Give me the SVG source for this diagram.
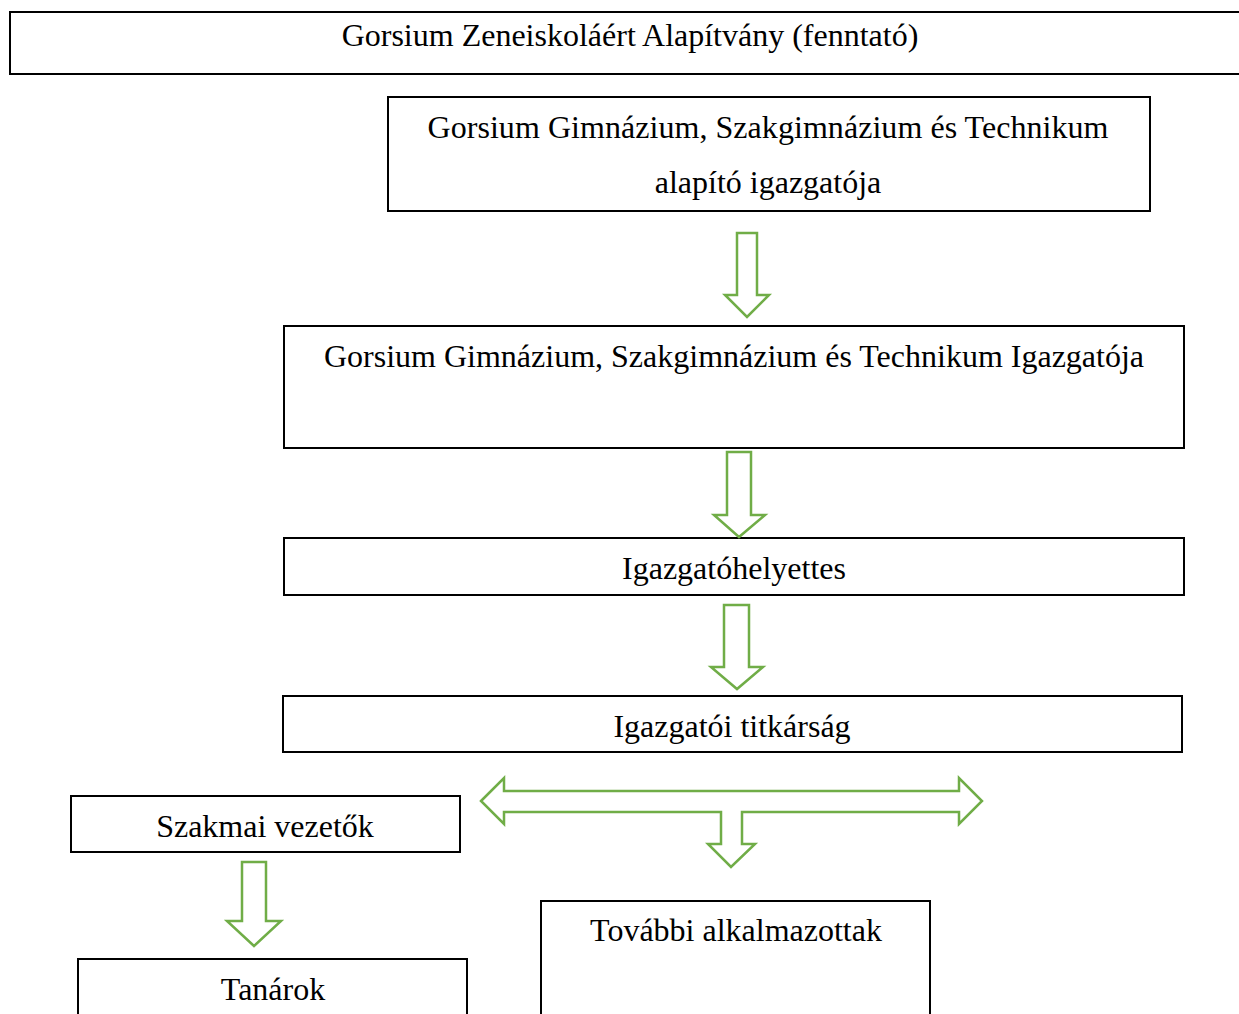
<svg xmlns="http://www.w3.org/2000/svg" width="1239" height="1014" viewBox="0 0 1239 1014">
<style>
.box{fill:#fff;stroke:#000;stroke-width:2}
.t{font-family:"Liberation Serif","Times New Roman",serif;font-size:32px;fill:#000;text-anchor:middle}
.ar{fill:#fff;stroke:#70AD47;stroke-width:2.5;stroke-linejoin:miter}
</style>
<rect width="1239" height="1014" fill="#fff"/>
<g id="n-fenntarto"><rect class="box" x="10" y="12" width="1240" height="62"/><text class="t" x="630" y="46">Gorsium Zeneiskoláért Alapítvány (fenntató)</text></g>
<g id="n-alapito"><rect class="box" x="388" y="97" width="762" height="114"/><text class="t" x="768" y="138" textLength="681" lengthAdjust="spacing">Gorsium Gimnázium, Szakgimnázium és Technikum</text><text class="t" x="768" y="193">alapító igazgatója</text></g>
<g id="n-igazgato"><rect class="box" x="284" y="326" width="900" height="122"/><text class="t" x="734" y="367">Gorsium Gimnázium, Szakgimnázium és Technikum Igazgatója</text></g>
<g id="n-helyettes"><rect class="box" x="284" y="538" width="900" height="57"/><text class="t" x="734" y="579">Igazgatóhelyettes</text></g>
<g id="n-titkarsag"><rect class="box" x="283" y="696" width="899" height="56"/><text class="t" x="732" y="737">Igazgatói titkárság</text></g>
<g id="n-szakmai"><rect class="box" x="71" y="796" width="389" height="56"/><text class="t" x="265" y="837">Szakmai vezetők</text></g>
<g id="n-tanarok"><rect class="box" x="78" y="959" width="389" height="70"/><text class="t" x="273" y="1000">Tanárok</text></g>
<g id="n-tovabbi"><rect class="box" x="541" y="901" width="389" height="130"/><text class="t" x="736" y="941">További alkalmazottak</text></g>
<g id="connectors">
<polygon class="ar" points="737,233 757,233 757,295 769,295 747,317 725,295 737,295"/>
<polygon class="ar" points="727,452 751,452 751,515 765,515 739,537 714,515 727,515"/>
<polygon class="ar" points="724,605 749,605 749,667 763,667 737,689 711,667 724,667"/>
<polygon class="ar" points="242,862 266,862 266,921 281,921 254,946 227,921 242,921"/>
<polygon class="ar" points="481,801 504,778 504,791 959,791 959,778 982,801 959,824 959,812 742,812 742,844 755,844 731,867 708,844 721,844 721,812 504,812 504,824"/>
</g>
</svg>
